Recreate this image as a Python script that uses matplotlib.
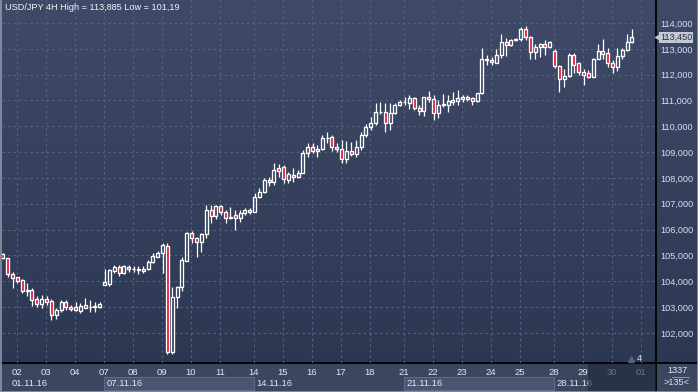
import matplotlib
matplotlib.use("Agg")
import matplotlib.pyplot as plt
import numpy as np
from matplotlib.colors import LinearSegmentedColormap
from matplotlib.patches import Rectangle
from matplotlib.transforms import blended_transform_factory

plt.rcParams['font.family'] = ['Liberation Sans', 'DejaVu Sans']

# USD/JPY 4H candles, 01.11.16 12:00 -> 30.11.16 16:00
opens = [105.06, 104.89, 104.28, 104.16, 104.05, 103.64, 103.66, 103.32, 103.11, 103.30,
         103.25, 102.71, 102.87, 103.20, 103.02, 103.00, 102.84, 103.08, 103.00, 103.02,
         103.02, 103.85, 103.90, 104.41, 104.54, 104.31, 104.54, 104.47, 104.47, 104.41,
         104.48, 104.74, 104.95, 105.08, 105.36, 101.27, 103.40, 103.77, 104.80, 105.86,
         105.67, 105.53, 105.82, 106.76, 106.54, 106.92, 106.67, 106.44, 106.56, 106.44,
         106.63, 106.76, 106.70, 107.25, 107.46, 107.92, 107.83, 108.37, 108.41, 107.92,
         108.13, 108.03, 108.21, 108.96, 109.19, 109.03, 109.11, 109.54, 109.58, 109.19,
         109.11, 108.72, 109.06, 108.93, 109.21, 109.66, 109.99, 110.12, 110.57, 110.57,
         110.12, 110.50, 110.81, 110.95, 110.92, 111.09, 110.70, 110.61, 111.12, 111.05,
         110.53, 110.83, 110.83, 110.96, 110.99, 111.06, 111.15, 111.08, 110.99, 111.28,
         112.55, 112.57, 112.47, 112.76, 113.28, 113.14, 113.34, 113.37, 113.76, 113.45,
         112.87, 113.06, 113.19, 113.08, 112.92, 112.34, 111.84, 111.95, 112.76, 112.44,
         112.11, 112.08, 111.92, 112.59, 112.93, 112.83, 112.44, 112.29, 112.72, 112.95,
         113.28]
highs = [105.10, 104.92, 104.37, 104.18, 104.08, 103.95, 103.74, 103.43, 103.47, 103.43,
         103.30, 102.98, 103.28, 103.28, 103.08, 103.20, 103.15, 103.34, 103.28, 103.21,
         103.20, 104.47, 104.48, 104.62, 104.63, 104.64, 104.62, 104.58, 104.58, 104.58,
         104.83, 105.08, 105.16, 105.47, 105.48, 103.79, 103.82, 104.93, 105.92, 105.96,
         105.73, 105.88, 106.95, 106.94, 106.95, 106.95, 106.76, 106.89, 106.76, 106.76,
         106.82, 106.82, 107.40, 107.60, 108.00, 108.05, 108.57, 108.54, 108.50, 108.24,
         108.37, 108.30, 109.08, 109.37, 109.34, 109.28, 109.66, 109.79, 109.66, 109.34,
         109.47, 109.44, 109.40, 109.47, 109.79, 110.09, 110.37, 110.89, 110.95, 110.89,
         110.89, 110.89, 111.00, 111.15, 111.21, 111.15, 110.83, 111.15, 111.38, 111.21,
         111.00, 111.25, 111.21, 111.34, 111.41, 111.21, 111.21, 111.13, 111.30, 113.02,
         112.76, 112.70, 112.98, 113.57, 113.41, 113.37, 113.41, 113.83, 113.885, 113.50,
         113.19, 113.21, 113.34, 113.29, 112.98, 112.37, 112.21, 112.83, 112.83, 112.50,
         112.21, 112.18, 112.63, 113.19, 113.37, 113.02, 112.57, 113.02, 113.02, 113.57,
         113.76]
lows = [104.88, 104.18, 103.75, 103.92, 103.54, 103.43, 103.06, 103.02, 102.98, 103.08,
        102.50, 102.53, 102.81, 102.90, 102.85, 102.85, 102.79, 102.95, 102.82, 102.82,
        102.96, 103.85, 103.80, 104.33, 104.21, 104.28, 104.35, 104.35, 104.27, 104.33,
        104.44, 104.70, 104.93, 104.31, 101.19, 101.19, 102.98, 103.64, 104.80, 105.50,
        104.93, 105.15, 105.67, 106.25, 106.43, 106.58, 106.25, 106.40, 105.99, 106.31,
        106.56, 106.60, 106.70, 107.21, 107.40, 107.69, 107.73, 108.05, 107.79, 107.79,
        107.86, 107.99, 108.21, 108.80, 108.96, 108.80, 109.08, 109.34, 109.06, 109.02,
        108.57, 108.57, 108.85, 108.83, 109.08, 109.60, 109.86, 110.05, 110.48, 109.79,
        109.86, 110.48, 110.80, 110.83, 110.66, 110.63, 110.44, 110.40, 110.95, 110.25,
        110.31, 110.74, 110.57, 110.83, 110.83, 110.95, 110.98, 110.83, 110.95, 111.25,
        112.37, 112.37, 112.44, 112.63, 112.72, 113.11, 113.29, 113.32, 113.34, 112.59,
        112.59, 112.67, 112.76, 113.04, 112.25, 111.34, 111.53, 111.90, 112.08, 111.99,
        111.60, 111.86, 111.92, 112.59, 112.59, 112.31, 112.08, 112.15, 112.59, 112.93,
        113.21]
closes = [104.90, 104.27, 104.14, 104.03, 103.64, 103.67, 103.28, 103.11, 103.32, 103.20,
          102.71, 102.89, 103.20, 103.02, 102.94, 102.90, 103.03, 102.98, 103.02, 103.03,
          103.12, 103.97, 104.44, 104.54, 104.31, 104.59, 104.47, 104.48, 104.44, 104.49,
          104.75, 104.98, 105.08, 105.39, 101.25, 103.40, 103.77, 104.83, 105.86, 105.67,
          105.53, 105.82, 106.76, 106.54, 106.92, 106.67, 106.44, 106.50, 106.44, 106.63,
          106.76, 106.67, 107.25, 107.46, 107.92, 107.83, 108.31, 108.28, 107.95, 108.15,
          108.03, 108.21, 108.98, 109.19, 109.06, 109.11, 109.54, 109.56, 109.19, 109.11,
          108.72, 109.06, 108.93, 109.21, 109.66, 109.99, 110.12, 110.57, 110.54, 110.12,
          110.50, 110.81, 110.95, 110.96, 111.09, 110.70, 110.61, 111.12, 111.05, 110.53,
          110.83, 110.85, 110.98, 111.02, 111.08, 111.15, 111.06, 110.99, 111.28, 112.59,
          112.61, 112.49, 112.76, 113.28, 113.14, 113.34, 113.37, 113.76, 113.45, 112.87,
          113.08, 113.19, 113.06, 113.25, 112.34, 111.84, 111.95, 112.76, 112.36, 112.11,
          111.99, 111.92, 112.59, 112.93, 112.80, 112.44, 112.29, 112.72, 112.95, 113.28,
          113.45]

# first candle index of each trading day
day_labels = ['02', '03', '04', '07', '08', '09', '10', '11', '14', '15', '16', '17', '18',
              '21', '22', '23', '24', '25', '28', '29', '30', '01']
day_starts = [3, 9, 15, 21, 27, 33, 39, 45, 52, 58, 64, 70, 76,
              83, 89, 95, 101, 107, 114, 120, 126, 132]
week_labels = ['01.11.16', '07.11.16', '14.11.16', '21.11.16', '28.11.16']
week_starts = [-1, 21, 52, 83, 114]
price_ticks = list(range(102, 115))
last_price = 113.45
title = "USD/JPY 4H High = 113,885 Low = 101,19"

W, H = 698, 392
fig = plt.figure(figsize=(W / 100, H / 100), dpi=100)

# background
bg = fig.add_axes([0, 0, 1, 1])
bg.set_xlim(0, 1)
bg.set_ylim(0, 1)
bg.set_axis_off()
cmap = LinearSegmentedColormap.from_list('bg', ['#2b3651', '#3f4a68'])
bg.imshow(np.linspace(1, 0, 256).reshape(-1, 1), aspect='auto', cmap=cmap,
          extent=[0, 1, 0, 1], zorder=0)
strip_h = 29 / H
bg.add_patch(Rectangle((0, 0), 1, strip_h, color='#3b4660', zorder=1))

ax = fig.add_axes([2 / W, strip_h, 654 / W, 363 / H])
ax.set_facecolor('none')
xmin, xmax = -0.2, 134.97
ax.set_xlim(xmin, xmax)
ax.set_ylim(100.837, 114.89)


def to_fig(i):
    return (2 + (i - xmin) / (xmax - xmin) * 654) / W


# week boxes on the time axis
for k in (1, 3):
    x0 = to_fig(week_starts[k] - 0.2)
    x1 = to_fig(week_starts[k + 1] - 0.2)
    bg.add_patch(Rectangle((x0, 2 / H), x1 - x0, 13.5 / H, fc='#4a5570',
                           ec='#5f6a86', lw=0.8, zorder=2))

# separating lines
bg.axvline(656 / W, color='black', lw=1.3, zorder=3)
bg.axhline(strip_h, color='black', lw=1.3, zorder=3)
bg.axvline(0.5 / W, color='#8d96a8', lw=1.2, zorder=3)
bg.axvline(1 - 0.5 / W, color='#8d96a8', lw=1.2, zorder=3)
bg.axhline(0.5 / H, color='#8d96a8', lw=1.2, zorder=3)

# corner box
bg.text(677 / W, 1 - 370.5 / H, '1337', color='#e1e7f2', fontsize=6.6, ha='center', va='center')
bg.plot([672 / W, 689 / W], [1 - 377 / H] * 2, color='#9aa3b5', lw=0.6)
bg.text(677 / W, 1 - 382.5 / H, '>135<', color='#e1e7f2', fontsize=6.6, ha='center', va='center')

# candles
x = np.arange(len(opens))
o = np.array(opens)
c = np.array(closes)
h = np.array(highs)
l = np.array(lows)
up = c >= o
top = np.maximum(o, c)
bot = np.minimum(o, c)
ax.vlines(x, top, h, color='white', lw=0.9, zorder=3)
ax.vlines(x, l, bot, color='white', lw=0.9, zorder=3)
ax.bar(x, c - o, bottom=o, width=0.62,
       color=['none' if u else '#e3102c' for u in up],
       edgecolor='white', linewidth=0.95, zorder=4)

# axes, grid, labels
for s in ax.spines.values():
    s.set_visible(False)
ax.yaxis.tick_right()
ax.set_yticks(price_ticks)
ax.set_yticklabels([f"{p},000" for p in price_ticks])
ax.tick_params(axis='y', length=0, pad=3, labelsize=6.6, labelcolor='#d5e0f2')
ax.set_xticks([s - 0.2 for s in day_starts])
ax.set_xticklabels(day_labels)
ax.tick_params(axis='x', length=0, pad=3.5, labelsize=6.8, labelcolor='#e1e7f2')
ax.grid(True, color='#56627f', ls=(0, (2.2, 2.8)), lw=0.8, zorder=1)
ax.set_axisbelow(True)

trans_xf = blended_transform_factory(ax.transData, fig.transFigure)
for k, lab in enumerate(week_labels):
    xpos = 1.7 if k == 0 else week_starts[k] + 0.45
    ax.text(xpos, 1 - 383 / H, lab, transform=trans_xf, color='#e1e7f2',
            fontsize=6.8, ha='left', va='center', clip_on=False)

# dimmed area at the end of the time axis
ax.add_patch(Rectangle((120.9, 1 / H), xmax - 120.9, strip_h - 1.5 / H, transform=trans_xf,
                       fc='#1d2539', alpha=0.6, ec='none', clip_on=False, zorder=10))

ax.text(3 / 654, 1 - 8 / 363, title, transform=ax.transAxes, fontsize=6.6,
        color='#f0f3f8', va='center', ha='left')

# last price tag
trans_ay = blended_transform_factory(ax.transAxes, ax.transData)
ax.text(1 + 4 / 654, last_price, "113,450", transform=trans_ay, fontsize=6.6,
        color='#27304a', va='center', ha='left', clip_on=False, zorder=12,
        bbox=dict(boxstyle='square,pad=0.12', fc='#c5c9d1', ec='none'))
ax.plot([1 + 2 / 654], [last_price], marker='<', ms=4.5, color='#c5c9d1',
        transform=trans_ay, clip_on=False, zorder=12)

ax.plot([0.962], [0.012], marker='^', ms=4, color='#596276', transform=ax.transAxes,
        clip_on=False, zorder=5)
ax.text(0.975, 0.013, '4', transform=ax.transAxes, fontsize=6.6, color='#e1e7f2',
        ha='center', va='center', zorder=5)

fig.savefig('out.png', dpi=100)
